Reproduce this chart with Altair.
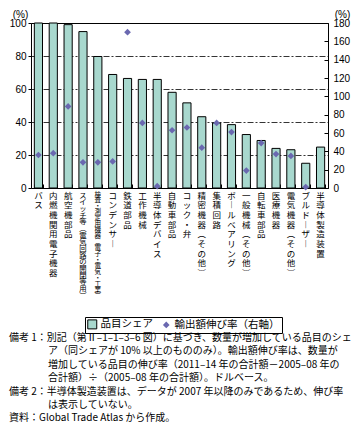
import altair as alt
import pandas as pd

categories = [
    "バス", "内燃機関用電子機器", "航空機部品", "スイッチ等（電気回路の開閉等用）",
    "検査・測定用機器（電子・電気・工業）", "コンデンサー", "鉄道部品", "工作機械",
    "半導体デバイス", "自動車部品", "コック・弁", "精密機器（その他）", "集積回路",
    "ボールベアリング", "一般機械（その他）", "自転車部品", "医療機器",
    "電気機器（その他）", "ブルドーザー", "半導体製造装置",
]
share = [100, 100, 99, 94.8, 79.7, 68.8, 66.4, 65.8, 65.8, 58,
         51.6, 43.2, 39.4, 38.4, 32.4, 28.8, 24, 23.2, 15, 24.8]
growth = [36, 38, 89, 28, 28, 29, 170, 71, 2, 63,
          66, 44, 71, 61, 19, 49, 37, 35, 1, None]
series_names = ["品目シェア", "輸出額伸び率（右軸）"]
left_ticks = [0, 20, 40, 60, 80, 100]
right_ticks = [0, 20, 40, 60, 80, 100, 120, 140, 160, 180]
note_lines = [
    "備考 1：別記（第Ⅱ–1–1–3–6 図）に基づき、数量が増加している品目のシェ",
    "ア（同シェアが 10% 以上のもののみ）。輸出額伸び率は、数量が",
    "増加している品目の伸び率（2011–14 年の合計額－2005–08 年の",
    "合計額）÷（2005–08 年の合計額）。ドルベース。",
    "備考 2：半導体製造装置は、データが 2007 年以降のみであるため、伸び率",
    "は表示していない。",
    "資料：Global Trade Atlas から作成。",
]
note_indent = [False, True, True, True, False, True, False]

df = pd.DataFrame({"category": categories, "share": share, "growth": growth})

W, H = 297, 165
TEAL = "#A8D8CE"
PURPLE = "#6A68B0"
JP = "Noto Sans CJK JP"
NUM = "Liberation Sans"

legend = alt.Legend(
    orient="none", legendX=54, legendY=294, direction="horizontal", title=None,
    strokeColor="black", padding=2, labelFont=JP, labelFontSize=10.5,
    labelColor="black", labelOffset=3, columnPadding=7, symbolStrokeWidth=1,
)
color = alt.Color("series:N", scale=alt.Scale(domain=series_names, range=[TEAL, PURPLE]), legend=legend)
stroke = alt.Stroke("series:N", scale=alt.Scale(domain=series_names, range=["black", "transparent"]), legend=legend)
shape = alt.Shape("series:N", scale=alt.Scale(domain=series_names, range=["square", "diamond"]), legend=legend)
size = alt.Size("series:N", scale=alt.Scale(domain=series_names, range=[81, 45]), legend=legend)

xscale = alt.Scale(paddingInner=0.45, paddingOuter=0.225)

label_expr = (
    "split(replace(replace(replace(datum.label, regexp('ー','g'), '︱'), "
    "regexp('（','g'), '︵'), regexp('）','g'), '︶'), '')"
)

x_axis = alt.Axis(
    orient="bottom", title=None, domain=False, ticks=False, labelPadding=3,
    labelAngle=0, labelAlign="center", labelBaseline="top", labelFont=JP,
    labelFontSize={"expr": "length(datum.label) > 12 ? 118 / length(datum.label) : 8.5"},
    labelLineHeight={"expr": "length(datum.label) > 12 ? 107 / length(datum.label) : 9.7"},
    labelColor="black", labelExpr=label_expr, labelOverlap=False, grid=False,
)
left_axis = alt.Axis(
    orient="left", values=left_ticks, title="(%)", titleAngle=0, titleX=-11, titleY=-9,
    titleAlign="center", titleBaseline="middle", titleFont=NUM, titleFontSize=10,
    titleFontWeight="normal", titleColor="black", labelFont=NUM, labelFontSize=10,
    labelColor="black", tickSize=3, tickColor="black", labelPadding=2, domain=False,
    grid=True, gridColor="black", gridDash=[6, 2, 2, 2], gridWidth=0.8,
)
right_axis = alt.Axis(
    orient="right", values=right_ticks, title="(%)", titleAngle=0, titleX=14, titleY=-9,
    titleAlign="center", titleBaseline="middle", titleFont=NUM, titleFontSize=10,
    titleFontWeight="normal", titleColor="black", labelFont=NUM, labelFontSize=10,
    labelColor="black", tickSize=0, labelPadding=5, domain=False, grid=False,
)

bars = alt.Chart(df).transform_calculate(series="'品目シェア'").mark_bar(strokeWidth=1).encode(
    x=alt.X("category:N", sort=categories, scale=xscale, axis=x_axis),
    y=alt.Y("share:Q", scale=alt.Scale(domain=[0, 100]), axis=left_axis),
    color=color,
    stroke=stroke,
)

points = alt.Chart(df).transform_filter("isValid(datum.growth)").transform_calculate(
    series="'輸出額伸び率（右軸）'"
).mark_point(filled=True, opacity=1).encode(
    x=alt.X("category:N", sort=categories, scale=xscale, axis=None),
    y=alt.Y("growth:Q", scale=alt.Scale(domain=[0, 180]), axis=right_axis),
    color=color,
    stroke=stroke,
    shape=shape,
    size=size,
)

tick_layer = alt.Chart(df).transform_filter("isValid(datum.growth)").mark_point(opacity=0).encode(
    x=alt.X("category:N", sort=categories, scale=xscale,
            axis=alt.Axis(orient="top", offset=-H, labels=False, domain=False, tickSize=4,
                          tickColor="black", tickBand="extent", title=None, grid=False)),
    y=alt.Y("growth:Q", scale=alt.Scale(domain=[0, 180]),
            axis=alt.Axis(orient="left", offset=-W, labels=False, domain=False, tickSize=4,
                          tickColor="black", values=right_ticks, title=None, grid=False)),
)

one = pd.DataFrame({"k": [0]})
note_layers = []
for i, (line, ind) in enumerate(zip(note_lines, note_indent)):
    note_layers.append(
        alt.Chart(one).mark_text(
            text=line, align="left", baseline="middle", font=JP, fontSize=10, color="black",
        ).encode(x=alt.value(17 if ind else -22), y=alt.value(315 + i * 13.4))
    )

chart = alt.layer(bars, points, tick_layer, *note_layers).resolve_scale(
    y="independent"
).resolve_axis(
    x="independent", y="independent"
).properties(
    width=W, height=H,
    autosize=alt.AutoSizeParams(type="none"),
    padding={"left": 23, "top": 15, "right": 23, "bottom": 238},
).configure_view(stroke="black", strokeWidth=1)

chart.save("out.html", embed_options={"renderer": "svg", "actions": False})
